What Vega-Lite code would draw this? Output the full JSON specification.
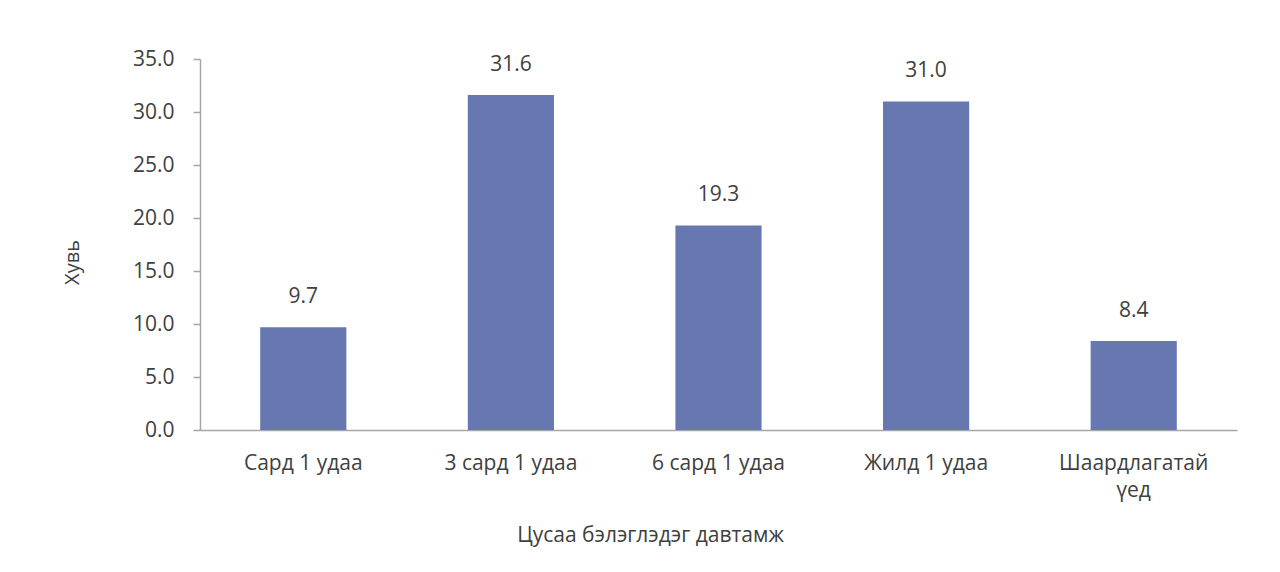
{
  "$schema": "https://vega.github.io/schema/vega-lite/v6.json",
  "width": 1037,
  "height": 371,
  "autosize": {"type": "none"},
  "padding": {"left": 200, "top": 59, "right": 43, "bottom": 142},
  "background": "white",
  "config": {
    "view": {"stroke": null},
    "font": "Open Sans"
  },
  "data": {
    "values": [
      {"cat": "Сард 1 удаа", "value": 9.7},
      {"cat": "3 сард 1 удаа", "value": 31.6},
      {"cat": "6 сард 1 удаа", "value": 19.3},
      {"cat": "Жилд 1 удаа", "value": 31.0},
      {"cat": "Шаардлагатай үед", "value": 8.4}
    ]
  },
  "encoding": {
    "x": {
      "field": "cat",
      "type": "nominal",
      "sort": null,
      "scale": {"paddingInner": 0.585, "paddingOuter": 0.29},
      "axis": {
        "title": "Цусаа бэлэглэдэг давтамж",
        "titleFontSize": 21,
        "titleFontWeight": "normal",
        "titleColor": "#404040",
        "titleX": 450,
        "titleY": 105,
        "titleAlign": "center",
        "titleBaseline": "middle",
        "labelAngle": 0,
        "labelFontSize": 21,
        "labelColor": "#404040",
        "labelPadding": 22,
        "labelLineHeight": 27,
        "labelExpr": "datum.label == 'Шаардлагатай үед' ? ['Шаардлагатай', 'үед'] : datum.label",
        "ticks": false,
        "domainColor": "#A6A6A6",
        "domainWidth": 1.5,
        "grid": false
      }
    },
    "y": {
      "field": "value",
      "type": "quantitative",
      "scale": {"domain": [0, 35], "nice": false},
      "axis": {
        "title": "Хувь",
        "titleFontSize": 20,
        "titleFontWeight": "normal",
        "titleColor": "#404040",
        "titleAngle": -90,
        "titleX": -128,
        "titleY": 203,
        "titleAlign": "center",
        "titleBaseline": "middle",
        "values": [0, 5, 10, 15, 20, 25, 30, 35],
        "format": ".1f",
        "labelFontSize": 21,
        "labelColor": "#404040",
        "labelPadding": 19,
        "tickColor": "#A6A6A6",
        "tickSize": 7,
        "tickWidth": 1.5,
        "domainColor": "#A6A6A6",
        "domainWidth": 1.5,
        "grid": false
      }
    }
  },
  "layer": [
    {"mark": {"type": "bar", "color": "#6777B0"}},
    {
      "mark": {"type": "text", "baseline": "bottom", "dy": -20, "fontSize": 21, "color": "#404040"},
      "encoding": {"text": {"field": "value", "type": "quantitative", "format": ".1f"}}
    }
  ]
}
